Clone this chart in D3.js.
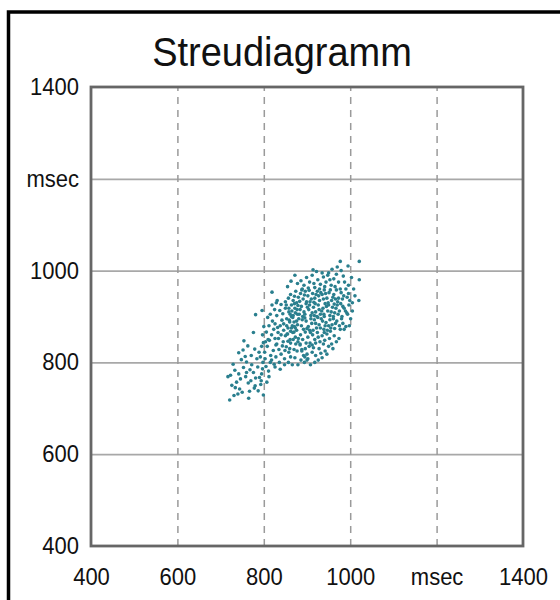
<!DOCTYPE html>
<html>
<head>
<meta charset="utf-8">
<script src="https://cdn.jsdelivr.net/npm/d3@7"></script>
<style>
html,body{margin:0;padding:0;background:#fff;}
svg{display:block;}
text{font-family:"Liberation Sans", Arial, Helvetica, sans-serif;fill:#111;}
</style>
</head>
<body>
<svg id="chart" width="560" height="600"></svg>
<script>
const title = "Streudiagramm";
const tickValues = [400, 600, 800, 1000, 1200, 1400];
const xTickLabels = ["400", "600", "800", "1000", "msec", "1400"];
const yTickLabels = ["400", "600", "800", "1000", "msec", "1400"];

// Tail (lower-left)
const pointsTail = [
[717,769],[723,772],[729,796],[737,757],[734,745],[740,731],[721,718],[746,764],[753,789],[760,801],
[768,784],[776,778],[781,766],[764,755],[767,737],[780,749],[790,767],[795,775],[787,738],[793,752],
[799,729],[748,806],[757,813],[742,821],[771,815],[784,808],[752,827],[763,836],[779,829],[789,822],
[754,847],[776,865],[781,904],[799,843],[805,791],[811,781],[812,769],[797,786],[803,808],[815,800],
[726,750],[744,742],[758,769],[772,795],[786,790],[770,760],[733,783],[760,778],[794,760],[807,757],
[778,744],[765,722],[750,735],[731,728],[742,775]
];
// Middle band
const pointsMid = [
[802,822],[808,835],[813,848],[818,860],[823,872],[806,866],[812,880],[820,890],[826,852],[830,840],
[835,828],[840,818],[828,812],[822,826],[816,815],[833,865],[838,880],[842,892],[846,870],[850,858],
[845,845],[852,834],[858,822],[862,812],[848,808],[836,800],[824,796],[818,805],[828,838],[834,852],
[840,860],[856,875],[860,888],[864,900],[853,895],[844,906],[837,913],[830,902],[825,915],[819,925],
[829,930],[840,926],[850,918],[858,910],[866,880],[870,866],[868,850],[862,842],[856,846],[849,826],
[843,836],[810,850],[804,845],[797,860],[809,898],[815,905],[800,878],[795,835],[792,812],[798,800],
[826,790],[838,785],[848,795],[857,800],[866,795],[872,810],[877,825],[874,840],[880,852],[884,840],
[888,828],[892,815],[896,830],[900,818],[886,805],[879,795],[894,800],[902,808],[860,830],[870,828],
[832,876],[826,884],[846,884],[854,862],[862,868],[871,878],[876,890],[878,905],[872,918],[864,925],
[796,913],[831,935],[819,953],[863,977],[872,990],[855,965]
];
// Dense core
const pointsCore = [
[878,972],[886,978],[893,968],[899,985],[906,975],[912,990],[918,963],[925,980],[931,970],[938,986],
[944,975],[950,995],[956,968],[962,982],[968,992],[973,975],[979,1000],[984,988],[889,960],[903,962],
[916,972],[929,960],[941,965],[953,980],[965,965],[948,990],[935,995],[922,998],[958,1003],[970,1008],
[914,1002],[977,1020],[1021,1020],[1021,980],[1020,935],[995,1010],[1003,985],[1008,960],[1011,945],[1005,930],
[862,948],[868,935],[874,955],[880,942],[885,950],[891,938],[896,955],[902,945],[907,932],[913,950],
[918,940],[924,955],[929,935],[935,948],[940,958],[946,940],[951,952],[957,935],[962,948],[968,958],
[973,940],[979,952],[985,945],[990,960],[996,950],[871,944],[883,933],[894,947],[905,957],[916,931],
[927,945],[938,938],[949,930],[960,942],[971,932],[982,938],[993,942],[999,935],[888,958],[910,938],
[921,948],[943,950],[954,958],[966,938],[977,960],[932,952],[899,932],[876,930],[857,940],[850,932],
[852,925],[858,918],[865,912],[871,928],[877,915],[882,905],[887,922],[893,910],[898,928],[904,915],
[909,902],[915,920],[920,910],[926,925],[931,905],[937,918],[942,928],[948,912],[953,902],[959,920],
[964,908],[970,925],[975,912],[981,900],[986,918],[992,908],[997,925],[868,902],[879,924],[890,900],
[901,920],[912,908],[923,900],[934,912],[945,922],[956,910],[967,918],[978,928],[989,912],[861,905],
[873,908],[884,915],[895,905],[906,925],[917,902],[928,915],[939,905],[950,925],[961,900],[972,905],
[983,922],[994,905],[919,928],[940,900],[963,927],
[853,880],[859,892],[864,875],[870,888],[876,870],[881,895],[887,880],[892,872],[898,890],[903,878],
[909,895],[914,870],[920,885],[925,898],[931,875],[936,890],[942,880],[947,870],[953,893],[958,882],
[964,874],[969,890],[975,880],[980,895],[986,872],[867,898],[878,882],[889,893],[900,874],[911,885],
[922,875],[933,895],[944,887],[955,875],[966,885],[977,872],[873,875],[895,897],[917,893],[939,872],
[961,895],[983,885],[906,870],[928,882],[950,880],
[855,862],[861,850],[867,865],[873,855],[879,845],[885,860],[890,850],[896,866],[902,855],[907,842],
[913,860],[918,850],[924,865],[930,845],[935,858],[941,848],[946,862],[952,852],[957,840],[963,858],
[968,845],[974,852],[884,838],[898,842],[912,838],[926,855],[940,865],[954,868],[908,865],[920,842]
];
// Lower-right and right edge of the cloud
const pointsEdge = [
[888,825],[895,812],[905,835],[912,822],[920,815],[928,830],[935,810],[942,825],[946,818],[918,800],
[900,805],[908,795],[926,805],[938,840],[950,835],[960,830],[932,820],[915,832],
[1001,895],[998,880],[1005,912],[990,878],[996,968],[987,975]
];

const svg = d3.select("#chart");
const plotLeft = 91, plotRight = 523, plotTop = 87, plotBottom = 546;

const x = d3.scaleLinear().domain([400, 1400]).range([plotLeft, plotRight]);
const y = d3.scaleLinear().domain([400, 1400]).range([plotBottom, plotTop]);

// outer frame
svg.append("rect").attr("x", 8.5).attr("y", 12).attr("width", 600).attr("height", 650)
  .attr("fill", "#fff").attr("stroke", "#000").attr("stroke-width", 3.5);

// title
svg.append("text").attr("transform", "translate(282,66) scale(1,1.07)")
  .attr("text-anchor", "middle").attr("font-size", 38).text(title);

// gridlines horizontal (solid)
const gy = svg.append("g").attr("transform", `translate(${plotLeft},0)`)
  .call(d3.axisLeft(y).tickValues(tickValues.slice(1, -1)).tickSize(-(plotRight - plotLeft)).tickFormat(""));
gy.select(".domain").remove();
gy.selectAll("line").attr("stroke", "#a8a8a8").attr("stroke-width", 1.8);

// gridlines vertical (dashed)
const gx = svg.append("g").attr("transform", `translate(0,${plotBottom})`)
  .call(d3.axisBottom(x).tickValues(tickValues.slice(1, -1)).tickSize(-(plotBottom - plotTop)).tickFormat(""));
gx.select(".domain").remove();
gx.selectAll("line").attr("stroke", "#9a9a9a").attr("stroke-width", 1.5).attr("stroke-dasharray", "7,6");

// points
const allPoints = pointsTail.concat(pointsMid, pointsCore, pointsEdge);
svg.append("g").selectAll("circle").data(allPoints).join("circle")
  .attr("cx", d => x(d[0])).attr("cy", d => y(d[1])).attr("r", 1.8)
  .attr("fill", "#2a7f8e");

// plot border
svg.append("rect").attr("x", plotLeft).attr("y", plotTop)
  .attr("width", plotRight - plotLeft).attr("height", plotBottom - plotTop)
  .attr("fill", "none").attr("stroke", "#666").attr("stroke-width", 2.8);

// tick labels via axes
const ay = svg.append("g").attr("transform", `translate(${plotLeft},0)`)
  .call(d3.axisLeft(y).tickValues(tickValues).tickSize(0).tickPadding(12)
    .tickFormat((d, i) => yTickLabels[i]));
ay.select(".domain").remove();
ay.selectAll("text").attr("font-size", 22).attr("font-family", "Liberation Sans, Arial, sans-serif")
  .attr("fill", "#111").attr("transform", "scale(1,1.07)");

const ax = svg.append("g").attr("transform", `translate(0,${plotBottom})`)
  .call(d3.axisBottom(x).tickValues(tickValues).tickSize(0).tickPadding(21)
    .tickFormat((d, i) => xTickLabels[i]));
ax.select(".domain").remove();
ax.selectAll("text").attr("font-size", 22).attr("font-family", "Liberation Sans, Arial, sans-serif")
  .attr("fill", "#111").attr("transform", "scale(1,1.07)");
</script>
</body>
</html>
